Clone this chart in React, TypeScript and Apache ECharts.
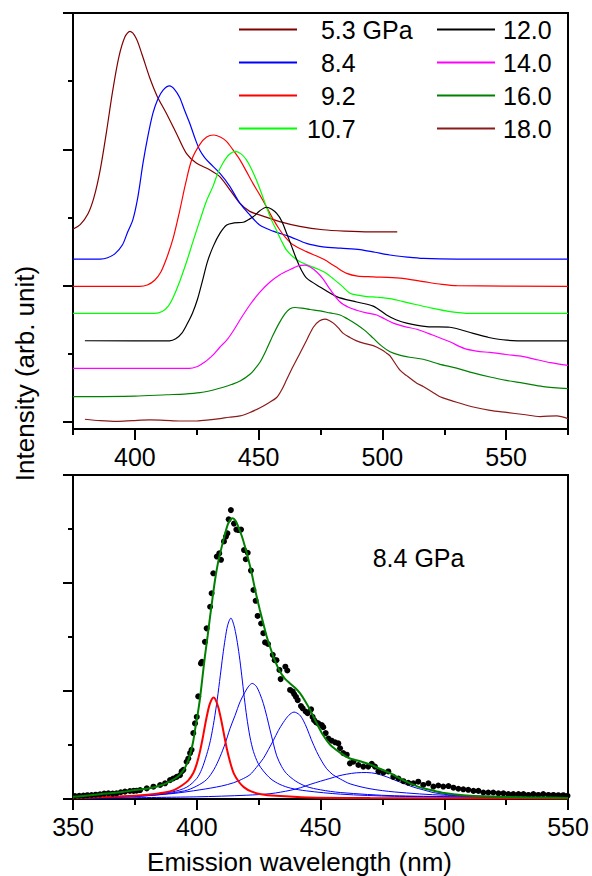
import React, { useEffect, useRef } from "react";
import * as echarts from "echarts";

// ---------- axis ticks ----------
const topXMajor = [400, 450, 500, 550];
const topXMinor = [375, 425, 475, 525, 575];
const topYMajor = [0, 2, 4, 6];
const topYMinor = [1, 3, 5];
const botXMajor = [350, 400, 450, 500, 550];
const botXMinor = [375, 425, 475, 525];
const botYMajor = [0, 2, 4, 6];
const botYMinor = [1, 3, 5];

// ---------- top panel: spectra at several pressures ----------
const names = ["5.3 GPa", "8.4", "9.2", "10.7", "12.0", "14.0", "16.0", "18.0"];
const colors = ["#800000", "#0000FF", "#FF0000", "#00FF00", "#000000", "#FF00FF", "#008000", "#8B1A1A"];

const s53 = [[375,2.83],[378,2.9],[381,3.05],[383.5,3.3],[386,3.7],[388.5,4.25],[391,4.85],[393.5,5.35],[396,5.65],[398,5.73],[400.5,5.63],[403,5.38],[406,5.05],[409,4.78],[412.7,4.53],[416.7,4.24],[420.8,3.94],[424.8,3.8],[430.2,3.7],[434.3,3.6],[438.3,3.41],[442.4,3.21],[446.4,3.09],[451.8,3.02],[458.5,2.94],[466.6,2.87],[476,2.82],[485,2.8],[495,2.79],[506,2.79]];
const s84 = [[375,2.39],[386,2.39],[389,2.41],[392,2.47],[395,2.6],[397,2.78],[399.2,2.97],[401.2,3.3],[403.3,3.8],[405.3,4.2],[407.3,4.53],[409.3,4.74],[411.4,4.87],[414,4.93],[416,4.88],[418.1,4.76],[420,4.58],[422.2,4.38],[424.2,4.17],[426.2,3.99],[428.2,3.88],[430.2,3.8],[434.3,3.65],[438.3,3.46],[442.4,3.21],[446.4,3.04],[450.4,2.89],[455.8,2.8],[462.6,2.72],[469.3,2.62],[476,2.57],[483,2.55],[491,2.53],[497,2.49],[503,2.45],[510,2.42],[516.5,2.4],[530,2.39],[575,2.39]];
const s92 = [[375,1.99],[402,1.99],[405,2.01],[408,2.08],[410.5,2.2],[413,2.42],[415.5,2.7],[418,3.08],[420.5,3.5],[423,3.85],[426.2,4.07],[429,4.18],[431.8,4.21],[434.5,4.18],[436.9,4.12],[439.5,4.0],[442.4,3.85],[445,3.68],[447.7,3.5],[450.5,3.33],[453.1,3.16],[455.8,2.98],[458.5,2.82],[461,2.7],[463.9,2.6],[469.3,2.5],[476.1,2.39],[481,2.28],[485.6,2.18],[490,2.14],[496.3,2.13],[507.1,2.11],[516.5,2.06],[524,2.02],[530,2.0],[575,1.99]];
const s107 = [[375,1.594],[408,1.594],[411,1.62],[413.5,1.7],[415.5,1.83],[418,2.05],[420.9,2.35],[423.5,2.65],[426.2,2.95],[429,3.25],[431.6,3.46],[433.5,3.65],[435.6,3.8],[438,3.92],[440.7,3.97],[443,3.93],[445,3.85],[447,3.72],[449.1,3.55],[451,3.37],[453.1,3.16],[455,2.98],[457.1,2.82],[459.2,2.66],[461.3,2.52],[464,2.42],[466.7,2.35],[470,2.3],[473.5,2.25],[477,2.19],[480.2,2.1],[483.5,2.0],[486.9,1.89],[490,1.86],[493.7,1.84],[498,1.83],[503.1,1.81],[508,1.77],[513.9,1.72],[520,1.67],[527.3,1.62],[535.4,1.594],[575,1.594]];
const s120 = [[379.8,1.192],[414,1.19],[416.5,1.22],[418.9,1.3],[421,1.43],[423.3,1.6],[425.3,1.8],[427.3,2.07],[429.3,2.35],[431.7,2.58],[434.4,2.77],[437.1,2.89],[440,2.92],[443.8,2.93],[446,2.97],[447.8,3.01],[450.5,3.1],[453.3,3.15],[455.3,3.12],[457.3,3.06],[459.3,2.95],[461.3,2.77],[463.3,2.58],[465.4,2.38],[467.4,2.22],[469.4,2.11],[474.8,1.98],[481.5,1.84],[489.6,1.76],[496.3,1.7],[501.7,1.57],[505.5,1.5],[509.8,1.45],[517.9,1.4],[527.3,1.39],[536.7,1.3],[543,1.24],[550.2,1.2],[560,1.19],[575,1.19]];
const s140 = [[375,0.787],[422,0.787],[425,0.81],[427,0.85],[429,0.9],[431.5,0.98],[434.4,1.1],[437.1,1.2],[440,1.35],[442.5,1.5],[446.5,1.72],[450.6,1.91],[454.5,2.05],[458.6,2.16],[463,2.24],[466,2.29],[468.7,2.3],[471,2.27],[473.5,2.2],[476,2.1],[478.8,1.95],[482.9,1.76],[486.5,1.68],[489.6,1.64],[493.5,1.6],[497.7,1.57],[501,1.51],[504.4,1.45],[509,1.4],[513.9,1.36],[520,1.28],[527,1.18],[533,1.08],[538,1.04],[543.5,1.02],[550,0.99],[556.9,0.96],[563,0.91],[568,0.87],[575,0.83]];
const s160 = [[375,0.371],[400,0.38],[412.9,0.4],[420,0.41],[426.3,0.43],[431.7,0.47],[435.7,0.51],[439,0.55],[442.5,0.6],[446.5,0.7],[448.5,0.78],[450.6,0.88],[453,1.05],[455.9,1.28],[458.3,1.45],[460.7,1.59],[462.7,1.66],[464.7,1.68],[467.5,1.67],[470.8,1.65],[474.8,1.63],[478.8,1.6],[482.9,1.57],[486,1.51],[489.6,1.43],[493,1.34],[496.3,1.23],[499.5,1.12],[503.1,1.03],[507,0.98],[511,0.95],[516.5,0.92],[523,0.85],[530,0.79],[536.7,0.72],[543.5,0.66],[550,0.61],[556.9,0.57],[565,0.52],[575,0.49]];
const s180 = [[379.8,0.04],[386,0.02],[392.7,0.01],[399,0.02],[406.1,0.03],[412,0.025],[418,0.015],[425,0.015],[430,0.03],[434.4,0.05],[438,0.07],[442.5,0.09],[446.5,0.14],[450.6,0.21],[454,0.28],[457.3,0.36],[459.3,0.47],[461.3,0.62],[464,0.82],[466.7,1.01],[469.4,1.2],[472.1,1.39],[474.5,1.48],[476.8,1.51],[478.5,1.49],[480.2,1.45],[482.2,1.38],[484.2,1.3],[486.9,1.24],[489.6,1.19],[493,1.15],[496.3,1.12],[499.7,1.06],[501.7,1.01],[503.1,0.97],[507.1,0.76],[509.8,0.68],[513.9,0.57],[516.5,0.52],[520.6,0.43],[523.3,0.37],[527.3,0.32],[530,0.29],[536.7,0.22],[543.5,0.17],[550.2,0.14],[557,0.11],[563.7,0.08],[570.4,0.09],[575,0.05]];
const spectra = [s53, s84, s92, s107, s120, s140, s160, s180];

// ---------- bottom panel: 8.4 GPa fit ----------
const measured = [[350.8,0.056],[352.5,0.06],[354.2,0.062],[355.8,0.07],[357.5,0.074],[359.2,0.08],[360.9,0.086],[362.6,0.1],[364.3,0.105],[366,0.1],[367.6,0.105],[369.3,0.125],[371,0.136],[373,0.148],[374.5,0.15],[375.7,0.154],[377.1,0.166],[379.8,0.197],[382.5,0.228],[385.2,0.259],[387.2,0.29],[389.2,0.35],[390.5,0.38],[391.9,0.41],[393.2,0.44],[393.9,0.51],[394.6,0.54],[395.9,0.69],[396.6,0.75],[397.3,0.85],[397.9,0.91],[398.6,1.22],[399.3,1.4],[400,1.52],[400.6,1.9],[401.7,2.51],[402.1,2.54],[403.3,2.91],[404,3.16],[405.4,3.56],[406,3.81],[406.7,4.18],[408.1,4.49],[409.1,4.55],[409.8,4.43],[411,4.77],[411.8,4.86],[412.4,4.92],[412.9,5.18],[413.8,5.35],[415.05,5.1],[416,4.99],[416.9,4.98],[417.9,4.99],[419.1,4.61],[419.8,4.44],[420.6,4.56],[421.9,4.23],[422.9,3.87],[423.8,3.67],[424.6,3.39],[426,3.25],[426.9,3.07],[427.6,2.9],[428.8,2.87],[430.7,2.67],[431.5,2.57],[432.2,2.57],[433.4,2.39],[433.9,2.22],[435.8,2.45],[436.6,2.38],[437.7,2.02],[438.8,1.99],[439.4,1.94],[440.1,1.89],[440.8,1.83],[442.1,1.72],[442.8,1.68],[444,1.62],[444.8,1.59],[446.2,1.66],[446.8,1.52],[447.4,1.46],[448.2,1.42],[449.1,1.4],[450.5,1.37],[451.1,1.33],[452.1,1.22],[453.2,1.12],[454.5,1.08],[455.9,1.05],[457.2,1.03],[457.9,0.94],[459.2,0.85],[460.6,0.82],[461.9,0.66],[463.3,0.69],[465.3,0.63],[467.3,0.6],[469.3,0.6],[470.7,0.65],[472,0.6],[473.4,0.51],[475.4,0.49],[477.4,0.51],[479.4,0.41],[481.5,0.38],[483.5,0.33],[485.5,0.3],[487.5,0.29],[489.5,0.32],[491.5,0.26],[493.6,0.29],[495.6,0.23],[497.6,0.25],[499.6,0.23],[501.7,0.24],[503.7,0.21],[505.7,0.19],[507.7,0.18],[509.7,0.17],[511.8,0.15],[513.8,0.15],[515.8,0.12],[517.8,0.12],[519.8,0.12],[521.9,0.105],[523.9,0.105],[525.9,0.09],[527.9,0.09],[530,0.09],[532,0.09],[534,0.075],[536,0.09],[538,0.075],[540,0.09],[542.1,0.075],[544.1,0.075],[546.1,0.07],[548.1,0.07],[549.8,0.06]];
const fitTotal = [[350,0.04],[355,0.06],[360.9,0.09],[366,0.11],[370,0.13],[374.4,0.16],[378,0.18],[382,0.21],[385.2,0.25],[388,0.3],[390.5,0.36],[392.5,0.42],[394.6,0.53],[396,0.65],[397.3,0.82],[398.5,1.05],[399.3,1.28],[400.3,1.55],[401.3,1.86],[402.3,2.25],[403.3,2.64],[404.4,3.02],[405.4,3.38],[406.4,3.73],[407.4,4.06],[408.7,4.4],[410.1,4.67],[411.5,4.92],[412.8,5.11],[414.5,5.2],[415.7,5.15],[416.8,5.04],[418.2,4.87],[419.5,4.67],[420.9,4.43],[422.2,4.18],[423.2,3.96],[424.2,3.75],[425.5,3.5],[426.9,3.25],[428.2,3.02],[429.6,2.82],[431.5,2.57],[433.6,2.36],[435.6,2.23],[437.7,2.14],[439.7,2.06],[441.7,1.96],[443.7,1.82],[445.8,1.65],[448.5,1.4],[451.1,1.18],[454,1.0],[457.9,0.86],[461.9,0.75],[466,0.7],[470,0.64],[474,0.56],[478.1,0.48],[482,0.38],[486.2,0.29],[490,0.22],[494.2,0.17],[500,0.11],[507.7,0.07],[521.2,0.04],[535,0.03],[550,0.02]];
const compRed = [[350,0.02],[370,0.05],[380,0.08],[387,0.12],[391,0.17],[394,0.25],[396.5,0.34],[398.6,0.48],[400,0.65],[401.3,0.88],[402.5,1.15],[403.7,1.45],[405,1.72],[406,1.84],[406.7,1.88],[407.5,1.85],[408.7,1.7],[409.8,1.48],[411,1.2],[412.2,0.92],[413.5,0.68],[415,0.47],[417,0.32],[419,0.22],[422,0.14],[426,0.09],[432,0.06],[445,0.03],[470,0.02],[550,0.01]];
const compB1 = [[350,0.02],[375,0.05],[390,0.13],[396,0.22],[400,0.38],[402,0.55],[404,0.82],[405.5,1.08],[407,1.45],[408.3,1.85],[409.5,2.28],[410.5,2.65],[411.5,2.97],[412.5,3.22],[413.8,3.35],[415,3.22],[416.1,2.98],[417.2,2.65],[418.2,2.28],[419.2,1.88],[420.2,1.52],[421.5,1.15],[422.9,0.88],[424.8,0.66],[426.9,0.52],[430,0.37],[433.6,0.27],[438,0.2],[444.4,0.15],[458,0.09],[480,0.05],[550,0.02]];
const compB2 = [[350,0.02],[380,0.06],[395,0.15],[400,0.24],[404,0.36],[407,0.55],[409.4,0.78],[411.5,1.03],[413.4,1.3],[415.5,1.55],[417.5,1.8],[419.5,1.98],[421,2.09],[422.4,2.14],[424,2.09],[425.5,1.95],[426.9,1.77],[428.3,1.53],[429.6,1.28],[431,1.02],[432.3,0.8],[434.3,0.6],[436.3,0.47],[440,0.33],[444.4,0.23],[450,0.17],[458,0.12],[480,0.06],[550,0.02]];
const compB3 = [[350,0.02],[375,0.05],[390,0.1],[401.3,0.17],[410,0.24],[414.8,0.3],[418,0.36],[421.5,0.45],[424,0.58],[426.9,0.75],[429,0.92],[430.9,1.08],[433,1.27],[435,1.42],[437.2,1.55],[439.3,1.61],[441.5,1.56],[443,1.46],[444.6,1.3],[446.3,1.1],[448.4,0.88],[450.5,0.7],[452.5,0.56],[455,0.45],[458,0.37],[462,0.28],[470,0.19],[480,0.13],[500,0.07],[550,0.03]];
const compB4 = [[350,0.01],[400,0.04],[420,0.07],[430,0.1],[437.7,0.16],[442,0.21],[445.8,0.27],[450,0.33],[453.8,0.38],[457.5,0.43],[460.6,0.46],[464.5,0.485],[468.7,0.49],[472.5,0.47],[476.8,0.41],[480,0.35],[483.5,0.29],[487.5,0.22],[491.5,0.17],[495.5,0.12],[499.6,0.09],[506,0.06],[513,0.04],[530,0.02],[550,0.01]];

const FONT = "'Liberation Sans', Arial, Helvetica, sans-serif";

function App() {
  const ref = useRef<HTMLDivElement>(null);
  useEffect(() => {
    if (!ref.current) return;
    const chart = echarts.init(ref.current, undefined, { renderer: "svg" });
    const black = "#000";
    const xAxisMk = (grid: number, min: number, max: number, values: number[], len: number, labels: boolean, line: boolean, margin: number) => ({
      type: "value", gridIndex: grid, min, max, position: "bottom",
      axisLine: { show: line, onZero: false, lineStyle: { color: black, width: 2 } },
      axisTick: { show: true, customValues: values, length: len, lineStyle: { color: black, width: 2 } },
      axisLabel: labels ? { show: true, customValues: values, fontSize: 25, color: black, fontFamily: FONT, margin } : { show: false },
      splitLine: { show: false },
    });
    const yAxisMk = (grid: number, min: number, max: number, values: number[], len: number, line: boolean) => ({
      type: "value", gridIndex: grid, min, max, position: "left",
      axisLine: { show: line, onZero: false, lineStyle: { color: black, width: 2 } },
      axisTick: { show: true, customValues: values, length: len, lineStyle: { color: black, width: 2 } },
      axisLabel: { show: false },
      splitLine: { show: false },
    });
    const topSeries = spectra.map((d, i) => ({
      name: names[i], type: "line", xAxisIndex: 0, yAxisIndex: 0, data: d,
      symbol: "none", showSymbol: false, smooth: 0.3,
      lineStyle: { color: colors[i], width: 1.2 }, itemStyle: { color: colors[i] },
    }));
    const comp = (name: string, d: number[][], color: string, width: number, z: number) => ({
      name, type: "line", xAxisIndex: 2, yAxisIndex: 2, data: d, symbol: "none", showSymbol: false, smooth: 0.3,
      lineStyle: { color, width }, itemStyle: { color }, z,
    });
    const legendBase = {
      orient: "vertical", itemWidth: 58, itemHeight: 2, itemGap: 8, icon: "rect", selectedMode: false, padding: 0,
    };
    chart.setOption({
      animation: false,
      backgroundColor: "#fff",
      grid: [
        { left: 73, top: 13, width: 495, height: 416, show: true, borderColor: black, borderWidth: 2, backgroundColor: "transparent" },
        { left: 73, top: 475, width: 495, height: 324, show: true, borderColor: black, borderWidth: 2, backgroundColor: "transparent" },
      ],
      xAxis: [
        xAxisMk(0, 375, 575, topXMajor, 11, true, true, 15),
        xAxisMk(0, 375, 575, topXMinor, 6, false, false, 0),
        xAxisMk(1, 350, 550, botXMajor, 11, true, true, 15),
        xAxisMk(1, 350, 550, botXMinor, 6, false, false, 0),
      ],
      yAxis: [
        yAxisMk(0, -0.1027, 6, topYMajor, 10, true),
        yAxisMk(0, -0.1027, 6, topYMinor, 5, false),
        yAxisMk(1, 0, 6, botYMajor, 10, true),
        yAxisMk(1, 0, 6, botYMinor, 5, false),
      ],
      legend: [
        { ...legendBase, left: 239, top: 17, data: names.slice(0, 4),
          formatter: (n: string) => (n === "10.7" ? n : "  " + n),
          textStyle: { fontSize: 25, color: black, fontFamily: FONT, padding: [0, 0, 0, 5] } },
        { ...legendBase, left: 437, top: 17, data: names.slice(4),
          textStyle: { fontSize: 25, color: black, fontFamily: FONT, padding: [0, 0, 0, 3] } },
      ],
      graphic: [
        { type: "text", x: 25, y: 373.5, rotation: Math.PI / 2,
          style: { text: "Intensity (arb. unit)", fontSize: 26, fontFamily: FONT, fill: black, align: "center", verticalAlign: "middle", textAlign: "center", textVerticalAlign: "middle" } },
        { type: "text", x: 299.5, y: 862,
          style: { text: "Emission wavelength (nm)", fontSize: 26, fontFamily: FONT, fill: black, align: "center", verticalAlign: "middle", textAlign: "center", textVerticalAlign: "middle" } },
        { type: "text", x: 372.7, y: 558,
          style: { text: "8.4 GPa", fontSize: 25, fontFamily: FONT, fill: black, align: "left", verticalAlign: "middle", textAlign: "left", textVerticalAlign: "middle" } },
      ],
      series: [
        ...topSeries,
        comp("fit B4", compB4, "#0000FF", 1, 2),
        comp("fit B3", compB3, "#0000FF", 1, 2),
        comp("fit B2", compB2, "#0000FF", 1, 2),
        comp("fit B1", compB1, "#0000FF", 1, 2),
        comp("fit red", compRed, "#FF0000", 2, 3),
        { name: "measured", type: "scatter", xAxisIndex: 2, yAxisIndex: 2, data: measured, symbol: "circle", symbolSize: 6, itemStyle: { color: black, opacity: 1 }, z: 4 },
        comp("fit total", fitTotal, "#008000", 2, 5),
      ],
    });
    return () => chart.dispose();
  }, []);
  return <div ref={ref} style={{ position: "fixed", left: 0, top: 0, width: 592, height: 876 }} />;
}

export default App;
